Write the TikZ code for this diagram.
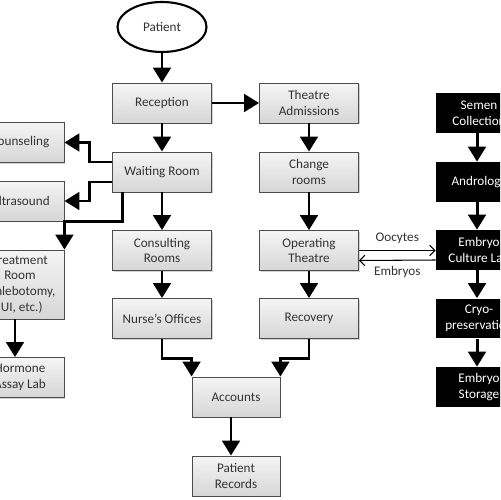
\documentclass[tikz,border=0pt]{standalone}
\usepackage{fontspec}
\setmainfont{Carlito}
\usetikzlibrary{arrows.meta,shadows,calc,shapes.geometric}

\begin{document}
\begin{tikzpicture}[x=0.02cm, y=-0.02cm,
    every node/.style={font=\fontsize{7.5}{8.9}\selectfont, text=black!80},
    room/.style={draw=black!70, line width=0.5pt, rectangle, align=center, inner sep=1pt,
        minimum width=\boxw, minimum height=\boxh, top color=gray!8, bottom color=gray!32,
        drop shadow={shadow xshift=0.8pt, shadow yshift=-0.8pt, opacity=0.35}},
    sideroom/.style={room, minimum width=\sidew},
    lab/.style={rectangle, fill=black, text=white, align=center, inner sep=1pt,
        minimum width=\labw, minimum height=\boxh},
    flow/.style={line width=\linethic, -{Triangle[length=8.5pt, width=10pt]}},
    handover/.style={line width=0.6pt, -{Straight Barb[length=3pt, width=6pt]}}
]

    %--------------------%
    % Parameters
    %--------------------%
    \def\boxw{1.98cm}
    \def\sidew{1.76cm}
    \def\labw{1.72cm}
    \def\boxh{0.8cm}
    \def\linethic{1.7pt}

    \useasboundingbox (0,0) rectangle (500,500);
    \fill[white] (0,0) rectangle (500,500);
    \clip (0,0) rectangle (500,500);

    %--------------------%
    % Main Column
    %--------------------%
    \node[draw, ellipse, line width=1.2pt, fill=white, minimum width=1.78cm, minimum height=1.0cm] (pat) at (162,27) {Patient};
    \node[room] (rec) at (162,103) {Reception};
    \node[room] (wait) at (162,172) {Waiting Room};
    \node[room] (cons) at (162,250.5) {Consulting\\Rooms};
    \node[room] (nurse) at (162,318.5) {Nurse’s Offices};
    \node[sideroom] (acc) at (236,397) {Accounts};
    \node[sideroom] (prec) at (236,476) {Patient\\Records};

    %--------------------%
    % Theatre Column
    %--------------------%
    \node[room] (tadm) at (309,103) {Theatre\\Admissions};
    \node[room] (chg) at (309,172) {Change\\rooms};
    \node[room] (opt) at (309,250.5) {Operating\\Theatre};
    \node[room] (recov) at (309,318.5) {Recovery};

    %--------------------%
    % Side Rooms
    %--------------------%
    \node[sideroom] (couns) at (20,142.5) {Counseling};
    \node[sideroom] (ultra) at (20,201) {Ultrasound};
    \node[sideroom, minimum height=1.38cm] (treat) at (20,284.5) {Treatment\\Room\\(Phlebotomy,\\IUI, etc.)};
    \node[sideroom] (horm) at (20,377.5) {Hormone\\Assay Lab};

    %--------------------%
    % Laboratory
    %--------------------%
    \node[lab] (semen) at (479,113) {Semen\\Collection};
    \node[lab] (andro) at (479,182) {Andrology};
    \node[lab] (ecl) at (479,250) {Embryo\\Culture Lab};
    \node[lab] (cryo) at (479,318.5) {Cryo-\\preservation};
    \node[lab] (stor) at (479,387) {Embryo\\Storage};

    %--------------------%
    % Connections
    %--------------------%
    \draw[flow] (pat) -- (rec);
    \draw[flow] (rec) -- (tadm);
    \draw[flow] (rec) -- (wait);
    \draw[flow] ($(wait.west)+(0,-10)$) -| ($(couns.east)+(25,0)$) -- (couns);
    \draw[flow] ($(wait.west)+(0,10)$) -| ($(ultra.east)+(25,0)$) -- (ultra);
    \draw[flow] ($(wait.south west)+(10,0)$) |- (ultra.south east) -- (treat.north east);
    \draw[flow] (wait) -- (cons);
    \draw[flow] (cons) -- (nurse);
    \draw[flow] (nurse.south) -- ++(0,20) -| (acc.north west);
    \draw[flow] ($(treat.south)+(-5,0)$) -- ($(horm.north)+(-5,0)$);

    \draw[flow] (tadm) -- (chg);
    \draw[flow] (chg) -- (opt);
    \draw[flow] (opt) -- (recov);
    \draw[flow] (recov.south) -- ++(0,20) -| (acc.north east);
    \draw[flow] ($(acc.south)+(-5,0)$) -- ($(prec.north)+(-5,0)$);

    \draw[handover] (opt.east) -- node[above]{Oocytes} (opt.east -| ecl.west);
    \draw[handover] ($(ecl.west)+(0,10)$) -- node[below]{Embryos} ($(opt.east)+(0,10)$);

    \draw[flow] ($(semen.south)+(-2,0)$) -- ($(andro.north)+(-2,0)$);
    \draw[flow] ($(andro.south)+(-2,0)$) -- ($(ecl.north)+(-2,0)$);
    \draw[flow] ($(ecl.south)+(-2,0)$) -- ($(cryo.north)+(-2,0)$);
    \draw[flow] ($(cryo.south)+(-2,0)$) -- ($(stor.north)+(-2,0)$);
\end{tikzpicture}
\end{document}
